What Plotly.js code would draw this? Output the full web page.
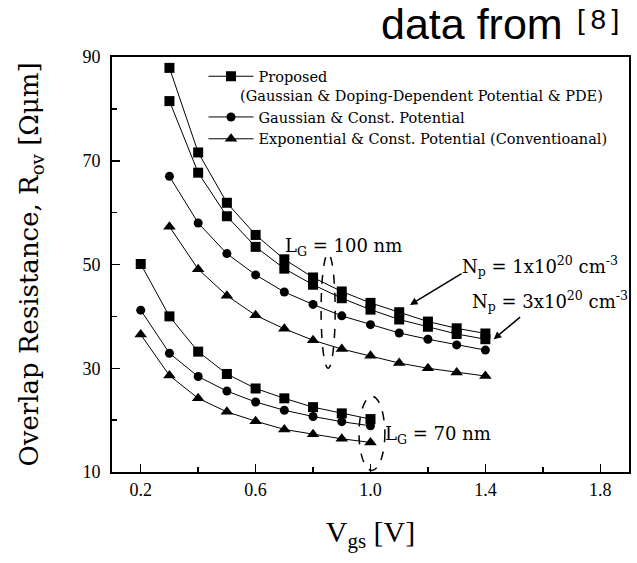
<!DOCTYPE html>
<html>
<head>
<meta charset="utf-8">
<script src="https://cdn.plot.ly/plotly-3.0.1.min.js"></script>
<style>html,body{margin:0;padding:0;background:#fff;}#chart{width:637px;height:563px;}</style>
</head>
<body>
<div id="chart"></div>
<script>
// Gate voltage values
var vgs100 = [0.3, 0.4, 0.5, 0.6, 0.7, 0.8, 0.9, 1.0, 1.1, 1.2, 1.3, 1.4];
var vgs70 = [0.2, 0.3, 0.4, 0.5, 0.6, 0.7, 0.8, 0.9, 1.0];

// LG = 100 nm
var proposed100_Np1 = [87.9, 71.6, 61.9, 55.7, 51.0, 47.5, 44.8, 42.6, 40.8, 39.0, 37.7, 36.7];
var proposed100_Np3 = [81.5, 67.7, 59.3, 53.4, 49.2, 46.1, 43.5, 41.3, 39.4, 38.0, 36.6, 35.6];
var gaussConst100 = [67.0, 58.0, 52.1, 48.0, 44.7, 42.3, 40.1, 38.4, 36.8, 35.6, 34.5, 33.5];
var expConst100 = [57.3, 49.1, 44.0, 40.2, 37.6, 35.4, 33.7, 32.4, 31.0, 30.0, 29.2, 28.5];

// LG = 70 nm
var proposed70 = [50.1, 40.0, 33.2, 28.9, 26.1, 24.2, 22.5, 21.3, 20.2];
var gaussConst70 = [41.2, 32.9, 28.4, 25.6, 23.5, 21.9, 20.7, 19.7, 18.9];
var expConst70 = [36.5, 28.6, 24.2, 21.6, 19.8, 18.2, 17.3, 16.4, 15.7];

var legendNames = ['Proposed<br>\u00a0', 'Gaussian & Const. Potential', 'Exponential & Const. Potential (Conventioanal)'];

var serif = '"Liberation Serif", "Times New Roman", serif';
var wideSerif = '"DejaVu Serif", serif';
var sans = '"Liberation Sans", Arial, sans-serif';

function tr(x, y, sym, sz, grp, name, show) {
  return {
    x: x, y: y, type: 'scatter', mode: 'lines+markers',
    name: name, legendgroup: grp, showlegend: show,
    line: {color: '#000', width: 1},
    marker: {symbol: sym, size: sz, color: '#000'}
  };
}

var data = [
  tr(vgs100, proposed100_Np1, 'square', 10, 'p', legendNames[0], true),
  tr(vgs100, gaussConst100, 'circle', 9, 'g', legendNames[1], true),
  tr(vgs100, expConst100, 'triangle-up', 11, 'e', legendNames[2], true),
  tr(vgs100, proposed100_Np3, 'square', 10, 'p', legendNames[0], false),
  tr(vgs70, proposed70, 'square', 10, 'p', legendNames[0], false),
  tr(vgs70, gaussConst70, 'circle', 9, 'g', legendNames[1], false),
  tr(vgs70, expConst70, 'triangle-up', 11, 'e', legendNames[2], false)
];

var layout = {
  width: 637, height: 563,
  margin: {l: 112, r: 8, t: 57, b: 91},
  paper_bgcolor: '#fff', plot_bgcolor: '#fff',
  font: {family: serif, color: '#000'},
  showlegend: true,
  legend: {
    x: 0.177, y: 0.992, xanchor: 'left', yanchor: 'top',
    bgcolor: 'rgba(0,0,0,0)', borderwidth: 0,
    font: {family: wideSerif, size: 14.5, color: '#000'},
    valign: 'top', tracegroupgap: 0, itemwidth: 45
  },
  xaxis: {
    range: [0.1, 1.9], tick0: 0.2, dtick: 0.4, tickformat: '.1f',
    ticks: 'inside', ticklen: 8, tickwidth: 1.5, tickcolor: '#000',
    minor: {tick0: 0.2, dtick: 0.2, ticks: 'inside', ticklen: 5, tickwidth: 1.5, tickcolor: '#000'},
    showline: true, linewidth: 2, linecolor: '#000', mirror: true,
    showgrid: false, zeroline: false,
    tickfont: {family: serif, size: 18, color: '#000'},
    title: {text: 'V<sub>gs</sub> [V]', font: {family: serif, size: 30, color: '#000'}, standoff: 22}
  },
  yaxis: {
    range: [10, 90], tick0: 10, dtick: 20,
    ticks: 'inside', ticklen: 8, tickwidth: 1.5, tickcolor: '#000',
    minor: {tick0: 10, dtick: 10, ticks: 'inside', ticklen: 5, tickwidth: 1.5, tickcolor: '#000'},
    showline: true, linewidth: 2, linecolor: '#000', mirror: true,
    showgrid: false, zeroline: false, ticklabelstandoff: 6,
    tickfont: {family: serif, size: 18, color: '#000'},
    title: {text: '\u2002\u2009\u2009Overlap Resistance, R<sub>ov</sub> [\u03A9\u03BCm]', font: {family: wideSerif, size: 26, color: '#000'}, standoff: 36}
  },
  shapes: [
    {type: 'circle', xref: 'x', yref: 'y', x0: 0.828, x1: 0.877, y0: 30.0, y1: 52.1,
     line: {color: '#000', width: 1.5, dash: 'dash'}},
    {type: 'circle', xref: 'x', yref: 'y', x0: 0.96, x1: 1.05, y0: 10.3, y1: 24.6,
     line: {color: '#000', width: 1.5, dash: 'dash'}}
  ],
  annotations: [
    {xref: 'paper', yref: 'paper', x: 0.876, y: 1.079, xanchor: 'right', yanchor: 'middle',
     height: 40, valign: 'middle',
     text: 'data from', showarrow: false,
     font: {family: sans, size: 43, color: '#000'}},
    {xref: 'paper', yref: 'paper', x: 0.8956, y: 1.091, xanchor: 'left', yanchor: 'middle',
     text: '[\u20098\u2009]', showarrow: false,
     font: {family: sans, size: 28, color: '#000'}},
    {xref: 'x', yref: 'y', x: 0.537, y: 82.4, xanchor: 'left', yanchor: 'middle',
     text: '(Gaussian & Doping-Dependent Potential & PDE)', showarrow: false,
     font: {family: wideSerif, size: 14.5, color: '#000'}},
    {xref: 'x', yref: 'y', x: 0.905, y: 53.3, xanchor: 'center', yanchor: 'middle',
     text: 'L<sub>G</sub> = 100 nm', showarrow: false,
     font: {family: wideSerif, size: 18, color: '#000'}},
    {xref: 'x', yref: 'y', x: 1.589, y: 49.8, xanchor: 'center', yanchor: 'middle',
     text: 'N<sub>p</sub> = 1x10<sup>20</sup> cm<sup>-3</sup>', showarrow: false,
     font: {family: wideSerif, size: 18, color: '#000'}},
    {xref: 'x', yref: 'y', x: 1.624, y: 43.0, xanchor: 'center', yanchor: 'middle',
     text: 'N<sub>p</sub> = 3x10<sup>20</sup> cm<sup>-3</sup>', showarrow: false,
     font: {family: wideSerif, size: 18, color: '#000'}},
    {xref: 'x', yref: 'y', x: 1.235, y: 17.2, xanchor: 'center', yanchor: 'middle',
     text: 'L<sub>G</sub> = 70 nm', showarrow: false,
     font: {family: wideSerif, size: 18, color: '#000'}},
    {xref: 'x', yref: 'y', axref: 'x', ayref: 'y', x: 1.1375, y: 42.2, ax: 1.322, ay: 48.4,
     text: '', showarrow: true, arrowhead: 2, arrowsize: 1, arrowwidth: 1.5, arrowcolor: '#000'},
    {xref: 'x', yref: 'y', axref: 'x', ayref: 'y', x: 1.429, y: 35.6, ax: 1.526, ay: 40.1,
     text: '', showarrow: true, arrowhead: 2, arrowsize: 1, arrowwidth: 1.5, arrowcolor: '#000'}
  ]
};

Plotly.newPlot('chart', data, layout, {staticPlot: true, displayModeBar: false});
</script>
</body>
</html>
